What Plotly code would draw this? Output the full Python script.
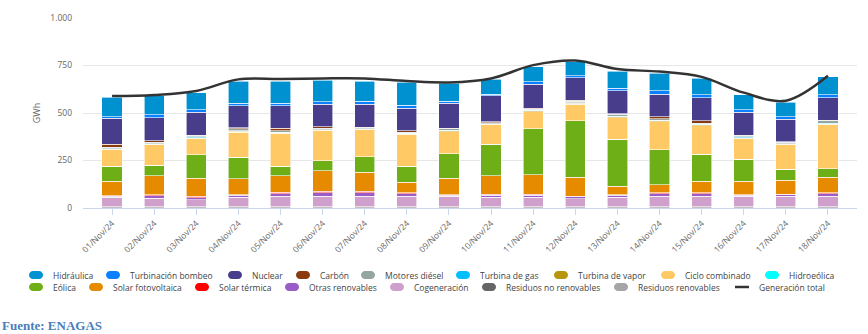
import plotly.graph_objects as go

# Daily electricity generation by technology (GWh), 1-18 November 2024
dias = ["01/Nov/24", "02/Nov/24", "03/Nov/24", "04/Nov/24", "05/Nov/24", "06/Nov/24",
        "07/Nov/24", "08/Nov/24", "09/Nov/24", "10/Nov/24", "11/Nov/24", "12/Nov/24",
        "13/Nov/24", "14/Nov/24", "15/Nov/24", "16/Nov/24", "17/Nov/24", "18/Nov/24"]

hidraulica = [101, 101, 91, 117, 117, 113, 105, 119, 93, 77, 78, 74, 91, 92, 87, 79, 77, 96]
turbinacion_bombeo = [9, 14, 12, 12, 12, 14, 17, 17, 12, 9, 14, 10, 14, 18, 14, 12, 12, 14]
nuclear = [136, 121, 120, 116, 119, 118, 120, 119, 132, 138, 127, 120, 120, 117, 123, 120, 118, 120]
carbon = [16, 9, 3, 7, 14, 8, 3, 7, 3, 3, 3, 3, 3, 12, 12, 3, 3, 3]
motores_diesel = [7, 7, 7, 9, 6, 7, 6, 5, 7, 7, 7, 8, 9, 7, 6, 7, 7, 11]
turbina_gas = [3, 3, 3, 4, 3, 3, 3, 3, 3, 3, 3, 4, 4, 3, 3, 3, 3, 5]
turbina_vapor = [4, 4, 4, 4, 3, 4, 3, 3, 4, 3, 4, 4, 4, 4, 3, 4, 4, 5]
ciclo_combinado = [87, 108, 87, 131, 175, 158, 140, 169, 117, 101, 91, 89, 114, 149, 151, 110, 127, 231]
hidroeolica = [0, 0, 0, 0, 0, 0, 0, 0, 0, 0, 0, 0, 0, 0, 0, 0, 0, 0]
eolica = [79, 53, 123, 114, 48, 52, 82, 83, 128, 165, 241, 295, 248, 184, 143, 117, 60, 43]
solar_fotovoltaica = [75, 101, 96, 84, 87, 109, 102, 57, 87, 98, 102, 102, 44, 43, 61, 70, 72, 84]
solar_termica = [3, 6, 7, 4, 8, 8, 8, 5, 3, 5, 5, 3, 4, 5, 5, 3, 3, 5]
otras_renovables = [6, 12, 10, 10, 15, 18, 18, 13, 6, 12, 12, 9, 10, 13, 13, 6, 9, 13]
cogeneracion = [49, 45, 37, 49, 54, 54, 54, 54, 54, 49, 49, 42, 49, 54, 54, 54, 54, 54]
residuos_no_renovables = [5, 5, 5, 5, 5, 5, 5, 5, 5, 5, 5, 5, 5, 5, 5, 5, 5, 5]
residuos_renovables = [2, 2, 2, 2, 2, 2, 2, 2, 2, 2, 2, 2, 2, 2, 2, 2, 2, 2]
generacion_total = [589, 595, 616, 677, 679, 682, 682, 668, 661, 682, 752, 776, 731, 718, 690, 607, 565, 696]

y_ticks = [0, 250, 500, 750, 1000]
y_tick_labels = ["0", "250", "500", "750", "1.000"]

# (name, values, colour) in legend order; stacked bottom-up in reverse
series = [
    ("Hidráulica", hidraulica, "#0091D1"),
    ("Turbinación bombeo", turbinacion_bombeo, "#0A7FFF"),
    ("Nuclear", nuclear, "#483D8B"),
    ("Carbón", carbon, "#8B3A0E"),
    ("Motores diésel", motores_diesel, "#93A7A0"),
    ("Turbina de gas", turbina_gas, "#00BFFF"),
    ("Turbina de vapor", turbina_vapor, "#B8960B"),
    ("Ciclo combinado", ciclo_combinado, "#FFC966"),
    ("Hidroeólica", hidroeolica, "#00FFFF"),
    ("Eólica", eolica, "#6EAE17"),
    ("Solar fotovoltaica", solar_fotovoltaica, "#E68A00"),
    ("Solar térmica", solar_termica, "#FF0000"),
    ("Otras renovables", otras_renovables, "#9A5CC6"),
    ("Cogeneración", cogeneracion, "#CFA0CB"),
    ("Residuos no renovables", residuos_no_renovables, "#666666"),
    ("Residuos renovables", residuos_renovables, "#A6A6A6"),
]
total_name, total_color = "Generación total", "#333333"

FONT = "Open Sans"
W, H = 868, 334
ML, MR, MT, MB = 83, 11, 18, 126
PW, PH = W - ML - MR, H - MT - MB

fig = go.Figure()
for name, values, color in reversed(series):
    fig.add_trace(go.Bar(
        x=dias, y=values, name=name,
        marker=dict(color=color, line=dict(color="rgba(255,255,255,0.85)", width=0.7)),
        showlegend=False,
    ))

fig.add_trace(go.Scatter(
    x=dias, y=generacion_total, name=total_name, mode="lines",
    line=dict(color=total_color, width=2.5, shape="spline", smoothing=1.0),
    showlegend=False,
))


def paper_x(px):
    return (px - ML) / PW


def paper_y(py):
    return (H - MB - py) / PH


# Legend drawn as pill swatches and labels, laid out in two rows
legend_rows = [
    (275, [("Hidráulica", 36), ("Turbinación bombeo", 113), ("Nuclear", 235),
           ("Carbón", 303), ("Motores diésel", 368), ("Turbina de gas", 463),
           ("Turbina de vapor", 561), ("Ciclo combinado", 668), ("Hidroeólica", 772)]),
    (287, [("Eólica", 36), ("Solar fotovoltaica", 96), ("Solar térmica", 202),
           ("Otras renovables", 292), ("Cogeneración", 397),
           ("Residuos no renovables", 489), ("Residuos renovables", 621),
           (total_name, 742)]),
]
colors = {name: color for name, _, color in series}
pill = ("M -3,-4 L 3,-4 C 5.2,-4 7,-2.2 7,0 C 7,2.2 5.2,4 3,4 L -3,4 "
        "C -5.2,4 -7,2.2 -7,0 C -7,-2.2 -5.2,-4 -3,-4 Z")
shapes, annotations = [], []
for row_y, items in legend_rows:
    for name, cx in items:
        if name == total_name:
            shapes.append(dict(type="path", xref="paper", yref="paper",
                               xsizemode="pixel", ysizemode="pixel",
                               xanchor=paper_x(cx), yanchor=paper_y(row_y),
                               path="M -7,0 L 7,0",
                               line=dict(color=total_color, width=2.5)))
        else:
            shapes.append(dict(type="path", xref="paper", yref="paper",
                               xsizemode="pixel", ysizemode="pixel",
                               xanchor=paper_x(cx), yanchor=paper_y(row_y),
                               path=pill, fillcolor=colors[name],
                               line=dict(width=0)))
        annotations.append(dict(text=name, xref="paper", yref="paper",
                                x=paper_x(cx + 15), y=paper_y(row_y),
                                xanchor="left", yanchor="middle", showarrow=False,
                                font=dict(family=FONT, size=8.5, color="#444444")))

annotations.append(dict(text="<b>Fuente: ENAGAS</b>", xref="paper", yref="paper",
                        x=paper_x(0), y=paper_y(325), xanchor="left", yanchor="middle",
                        showarrow=False,
                        font=dict(family="Liberation Serif", size=13, color="#4A7EBB")))

fig.update_layout(
    width=W, height=H,
    margin=dict(l=ML, r=MR, t=MT, b=MB),
    barmode="stack", bargap=0.52,
    plot_bgcolor="white", paper_bgcolor="white",
    shapes=shapes, annotations=annotations,
    xaxis=dict(
        type="category", range=[-0.69, 17.69],
        tickangle=-45, ticks="outside", ticklen=6, tickcolor="#CCD6EB",
        showline=True, linecolor="#CCD6EB", linewidth=1,
        showgrid=False,
        tickfont=dict(family=FONT, size=8.5, color="#666666"),
    ),
    yaxis=dict(
        range=[0, 1000], tickvals=y_ticks, ticktext=y_tick_labels,
        showgrid=True, gridcolor="#E6E6E6", gridwidth=1,
        zeroline=False, showline=False, ticks="",
        ticklabelstandoff=10,
        tickfont=dict(family=FONT, size=8.5, color="#666666"),
        title=dict(text="GWh", standoff=8,
                   font=dict(family=FONT, size=9, color="#666666")),
    ),
)

fig.write_html("out.html")
